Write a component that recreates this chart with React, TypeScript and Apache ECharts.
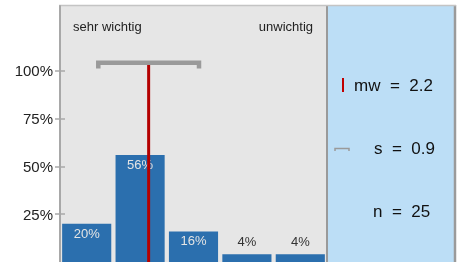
import React, { useEffect, useRef } from "react";
import * as echarts from "echarts";

const categories = ["1", "2", "3", "4", "5"];
const percents = [20, 56, 16, 4, 4];
const yTicks = [25, 50, 75, 100];
const meanValue = 2.16;
const sdValue = 0.943;
const statTexts = ["mw  =  2.2", "s  =  0.9", "n  =  25"];
const scaleLabels = ["sehr wichtig", "unwichtig"];

const FONT = "Liberation Sans, Arial, sans-serif";

export default function App() {
  const ref = useRef<HTMLDivElement>(null);
  useEffect(() => {
    if (!ref.current) return;
    const chart = echarts.init(ref.current, undefined, { renderer: "svg" });
    const barData = percents.map((v) => ({
      value: v,
      label:
        v >= 10
          ? { show: true, position: "insideTop", distance: 3, color: "#e4e4e4", fontSize: 13, fontFamily: FONT, formatter: "{c}%" }
          : { show: true, position: "top", distance: 6, color: "#333", fontSize: 13, fontFamily: FONT, formatter: "{c}%" },
    }));
    const capLow = 101.3;
    const capHigh = 104.3;
    chart.setOption({
      animation: false,
      grid: {
        left: 60,
        right: 134,
        top: 6,
        bottom: 0,
        show: true,
        backgroundColor: "#e6e6e6",
        borderWidth: 0,
      },
      xAxis: [
        {
          type: "category",
          data: categories,
          axisLine: { show: false },
          axisTick: { show: false },
          axisLabel: { show: false },
        },
        { type: "value", min: 0.5, max: 5.5, show: false },
      ],
      yAxis: [
        {
          type: "value",
          min: 0,
          max: 134,
          interval: 25,
          splitLine: { show: false },
          axisLine: { show: true, lineStyle: { color: "#a8a8a8", width: 2 } },
          axisTick: { show: true, length: 5, customValues: yTicks, lineStyle: { color: "#a8a8a8", width: 1.5 } },
          axisLabel: {
            customValues: yTicks,
            formatter: "{value}%",
            fontSize: 15,
            color: "#222",
            fontFamily: FONT,
            margin: 7,
          },
        },
        {
          type: "value",
          min: 0,
          max: 134,
          interval: 25,
          position: "left",
          splitLine: { show: false },
          axisLine: { show: false },
          axisTick: { show: true, inside: true, length: 5, customValues: yTicks, lineStyle: { color: "#a8a8a8", width: 1.5 } },
          axisLabel: { show: false },
        },
      ],
      graphic: [
        { type: "rect", shape: { x: 327, y: 5, width: 128, height: 257 }, style: { fill: "#bcdef6" }, silent: true },
        { type: "line", shape: { x1: 327, y1: 5, x2: 327, y2: 262 }, style: { stroke: "#9a9a9a", lineWidth: 2 }, silent: true },
        { type: "line", shape: { x1: 455, y1: 5, x2: 455, y2: 262 }, style: { stroke: "#9a9a9a", lineWidth: 2.5 }, silent: true },
        { type: "line", shape: { x1: 59, y1: 5.5, x2: 456, y2: 5.5 }, style: { stroke: "#c4c4c4", lineWidth: 1.5 }, silent: true },
        { type: "text", style: { text: scaleLabels[0], x: 73, y: 26, fontSize: 13, fontFamily: FONT, fill: "#222", verticalAlign: "middle" } },
        { type: "text", style: { text: scaleLabels[1], x: 313, y: 26, fontSize: 13, fontFamily: FONT, fill: "#222", align: "right", verticalAlign: "middle" } },
        { type: "line", shape: { x1: 343, y1: 78, x2: 343, y2: 92 }, style: { stroke: "#c00000", lineWidth: 2 } },
        { type: "polyline", shape: { points: [[335, 151], [335, 148.5], [349, 148.5], [349, 151]] }, style: { stroke: "#9a9a9a", lineWidth: 1.5, fill: null } },
        { type: "text", style: { text: statTexts[0], x: 354, y: 85, fontSize: 17, fontFamily: FONT, fill: "#111", verticalAlign: "middle" } },
        { type: "text", style: { text: statTexts[1], x: 374, y: 148, fontSize: 17, fontFamily: FONT, fill: "#111", verticalAlign: "middle" } },
        { type: "text", style: { text: statTexts[2], x: 373, y: 211, fontSize: 17, fontFamily: FONT, fill: "#111", verticalAlign: "middle" } },
      ],
      series: [
        {
          type: "bar",
          data: barData,
          barCategoryGap: "8%",
          itemStyle: { color: "#2b6fae" },
          silent: true,
        },
        {
          type: "line",
          xAxisIndex: 1,
          data: [
            [meanValue, 0],
            [meanValue, capHigh],
          ],
          symbol: "none",
          lineStyle: { color: "#b40000", width: 3 },
          silent: true,
        },
        {
          type: "line",
          xAxisIndex: 1,
          data: [
            [meanValue - sdValue, capLow],
            [meanValue - sdValue, capHigh],
            [meanValue + sdValue, capHigh],
            [meanValue + sdValue, capLow],
          ],
          symbol: "none",
          lineStyle: { color: "#9a9a9a", width: 4.5, cap: "butt", join: "miter" },
          silent: true,
        },
      ],
    });
    return () => chart.dispose();
  }, []);
  return (
    <div
      ref={ref}
      style={{ position: "fixed", left: 0, top: 0, width: 461, height: 262 }}
    />
  );
}
